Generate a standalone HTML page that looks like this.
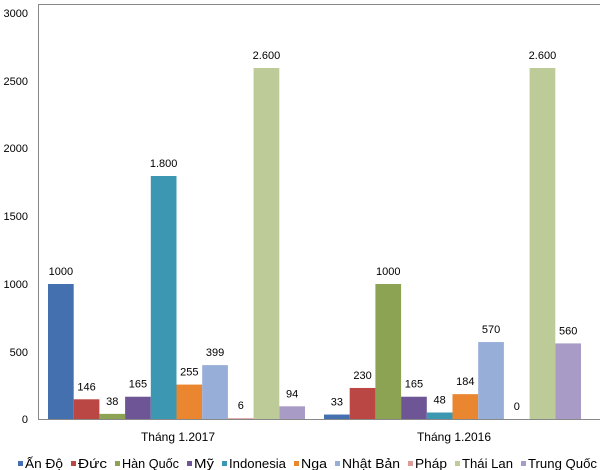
<!DOCTYPE html>
<html><head><meta charset="utf-8"><style>
body{margin:0;background:#fff;}
svg{display:block;font-family:"Liberation Sans",sans-serif;}
</style></head><body>
<svg width="600" height="470" viewBox="0 0 600 470">
<line x1="38" y1="4.5" x2="600" y2="4.5" stroke="#888" stroke-width="1"/>
<line x1="38.5" y1="4" x2="38.5" y2="420" stroke="#888"/>
<line x1="38" y1="419.5" x2="600" y2="419.5" stroke="#888"/>
<g font-size="11" fill="#000" text-anchor="end">
<text x="28" y="423">0</text>
<text x="28" y="356">500</text>
<text x="28" y="288">1000</text>
<text x="28" y="220">1500</text>
<text x="28" y="152">2000</text>
<text x="28" y="85">2500</text>
<text x="28" y="17">3000</text>
</g>
<g id="bars"></g>
<g font-size="12" text-anchor="middle">
<text x="178" y="441">Tháng 1.2017</text>
<text x="454" y="441">Tháng 1.2016</text>
</g>
<g font-size="13" id="leg"></g>
</svg>
<script>
var colors=["#4470b0","#bb4744","#8ba352","#6e5696","#3c97b2","#e9862f","#97aed8","#dd9a98","#bccb98","#a89cc6"];
var d1=[1000,146,38,165,1800,255,399,6,2600,94],l1=["1000","146","38","165","1.800","255","399","6","2.600","94"];
var d2=[33,230,1000,165,48,184,570,0,2600,560],l2=["33","230","1000","165","48","184","570","0","2.600","560"];
var s="",w=25.7;
[[d1,l1,48],[d2,l2,324]].forEach(function(g){
 for(var i=0;i<10;i++){var v=g[0][i],x=g[2]+i*w,h=v*0.135,y=419-h;
  s+='<rect x="'+x+'" y="'+y+'" width="'+w+'" height="'+h+'" fill="'+colors[i]+'"/>';
  s+='<text x="'+(x+w/2)+'" y="'+(y-9)+'" font-size="11" text-anchor="middle">'+g[1][i]+'</text>';}
});
document.getElementById("bars").innerHTML=s;
var names=["Ấn Độ","Đức","Hàn Quốc","Mỹ","Indonesia","Nga","Nhật Bản","Pháp","Thái Lan","Trung Quốc"];
var xs=[18,71,115,187,222,294,335,408,455,521,605];
var t="";
for(var i=0;i<10;i++){var L=xs[i+1]-xs[i]-15;t+='<rect x="'+xs[i]+'" y="461" width="5" height="5" fill="'+colors[i]+'"/><text x="'+(xs[i]+7)+'" y="468" textLength="'+L+'" lengthAdjust="spacingAndGlyphs">'+names[i]+'</text>';}
document.getElementById("leg").innerHTML=t;
</script>
</body></html>
